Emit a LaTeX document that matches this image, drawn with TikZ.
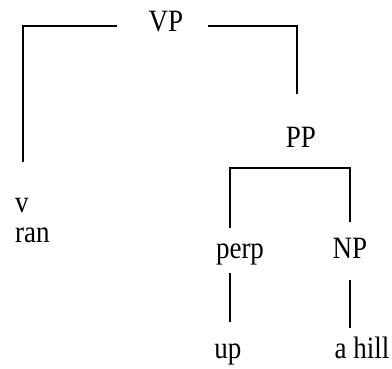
\documentclass[tikz,border=0pt]{standalone}
\usepackage{fontspec}
\setmainfont{Liberation Serif}
\newcommand\tallt[1]{\scalebox{1}[1.15]{#1}}
\begin{document}
\begin{tikzpicture}[x=1pt,y=1pt,
  lbl/.style={inner sep=0pt,font=\fontsize{27}{30}\selectfont},
  branch/.style={line width=2.4pt}]
\useasboundingbox (0,0) rectangle (392,368);
\node[lbl,anchor=base] (VP) at (166,336) {\tallt{VP}};
\node[lbl,anchor=base] (PP) at (301,221) {\tallt{PP}};
\node[lbl,anchor=base west] (v) at (15,156) {\tallt{v}};
\node[lbl,anchor=base west] (ran) at (15,126) {\tallt{ran}};
\node[lbl,anchor=base] (perp) at (240,110) {\tallt{perp}};
\node[lbl,anchor=base] (NP) at (350,110) {\tallt{NP}};
\node[lbl,anchor=base] (up) at (228,10) {\tallt{up}};
\node[lbl,anchor=base] (hill) at (362,10) {\tallt{a hill}};
% VP branches
\draw[branch] ([shift={(-49,6)}]VP.base) -| ([shift={(8,50)}]v.base west);
\draw[branch] ([shift={(42,6)}]VP.base) -| ([shift={(-4,53)}]PP.base);
% PP branches
\draw[branch] ([shift={(-10,30)}]perp.base) |- ([shift={(-71,-21)}]PP.base) -| ([shift={(0,36)}]NP.base);
% terminals
\draw[branch] ([shift={(-10,-15)}]perp.base) -- ([shift={(2,36)}]up.base);
\draw[branch] ([shift={(0,-22)}]NP.base) -- ([shift={(-12,30)}]hill.base);
\end{tikzpicture}
\end{document}
